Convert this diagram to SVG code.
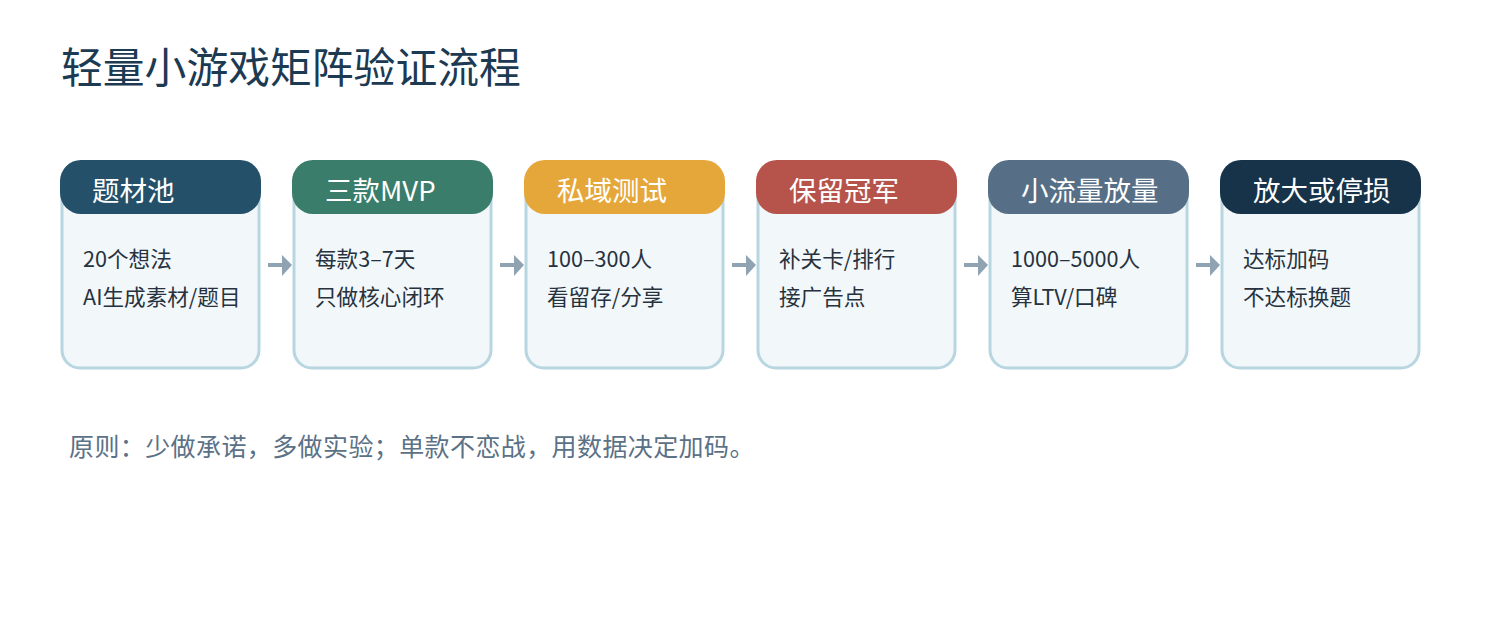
<svg xmlns="http://www.w3.org/2000/svg" width="1500" height="620" viewBox="0 0 1500 620">
<defs>
<style>
text{font-family:"Noto Sans CJK SC","Noto Sans",sans-serif}
.title{font-size:41.8px;fill:#1c3a52}
.box{fill:#f2f7fa;stroke:#b8d6e0;stroke-width:3}
.hd{font-size:27.5px;fill:#ffffff}
.bd{font-size:21.6px;fill:#26323e}
.foot{font-size:25px;letter-spacing:0.4px;fill:#5b7186}
.arr{stroke:#8fa3b3;stroke-width:4;fill:none}
.ah{fill:#8fa3b3}
</style>
</defs>
<rect width="1500" height="620" fill="#ffffff"/>
<text class="title" x="61" y="83">轻量小游戏矩阵验证流程</text>
<g id="connectors">
<g><line class="arr" x1="268" y1="265" x2="283" y2="265"/><polygon class="ah" points="282,255 292,265 282,276"/></g>
<g><line class="arr" x1="500" y1="265" x2="515" y2="265"/><polygon class="ah" points="514,255 524,265 514,276"/></g>
<g><line class="arr" x1="732" y1="265" x2="747" y2="265"/><polygon class="ah" points="746,255 756,265 746,276"/></g>
<g><line class="arr" x1="964" y1="265" x2="979" y2="265"/><polygon class="ah" points="978,255 988,265 978,276"/></g>
<g><line class="arr" x1="1196" y1="265" x2="1211" y2="265"/><polygon class="ah" points="1210,255 1220,265 1210,276"/></g>
</g>
<g id="node1">
<rect class="box" x="62" y="168" width="197" height="200" rx="18"/>
<rect x="60" y="160" width="201" height="54" rx="21" fill="#245069"/>
<text class="hd" x="92" y="201">题材池</text>
<text class="bd" x="83" y="267">20个想法</text>
<text class="bd" x="83" y="305">AI生成素材/题目</text>
</g>
<g id="node2">
<rect class="box" x="294" y="168" width="197" height="200" rx="18"/>
<rect x="292" y="160" width="201" height="54" rx="21" fill="#3a7d6a"/>
<text class="hd" x="325" y="201">三款MVP</text>
<text class="bd" x="315" y="267">每款3–7天</text>
<text class="bd" x="315" y="305">只做核心闭环</text>
</g>
<g id="node3">
<rect class="box" x="526" y="168" width="197" height="200" rx="18"/>
<rect x="524" y="160" width="201" height="54" rx="21" fill="#e6a73a"/>
<text class="hd" x="557" y="201">私域测试</text>
<text class="bd" x="547" y="267">100–300人</text>
<text class="bd" x="547" y="305">看留存/分享</text>
</g>
<g id="node4">
<rect class="box" x="758" y="168" width="197" height="200" rx="18"/>
<rect x="756" y="160" width="201" height="54" rx="21" fill="#b6544b"/>
<text class="hd" x="789" y="201">保留冠军</text>
<text class="bd" x="779" y="267">补关卡/排行</text>
<text class="bd" x="779" y="305">接广告点</text>
</g>
<g id="node5">
<rect class="box" x="990" y="168" width="197" height="200" rx="18"/>
<rect x="988" y="160" width="201" height="54" rx="21" fill="#566f86"/>
<text class="hd" x="1021" y="201">小流量放量</text>
<text class="bd" x="1011" y="267">1000–5000人</text>
<text class="bd" x="1011" y="305">算LTV/口碑</text>
</g>
<g id="node6">
<rect class="box" x="1222" y="168" width="197" height="200" rx="18"/>
<rect x="1220" y="160" width="201" height="54" rx="21" fill="#16334a"/>
<text class="hd" x="1253" y="201">放大或停损</text>
<text class="bd" x="1243" y="267">达标加码</text>
<text class="bd" x="1243" y="305">不达标换题</text>
</g>
<text class="foot" x="69" y="456">原则：少做承诺，多做实验；单款不恋战，用数据决定加码。</text>
</svg>
